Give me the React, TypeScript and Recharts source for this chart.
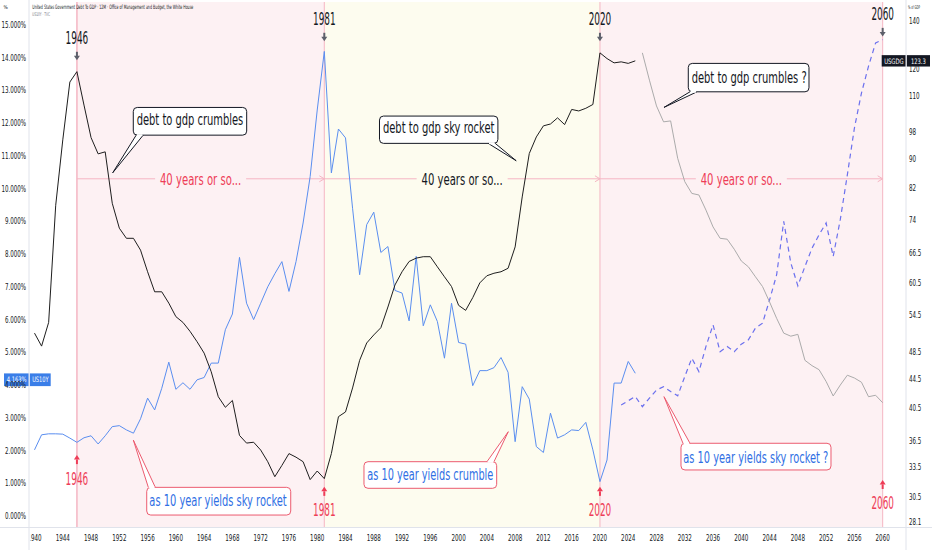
import React from 'react';
import {
  ComposedChart,
  Line,
  XAxis,
  YAxis,
  ReferenceArea,
  ReferenceLine,
  ReferenceDot,
} from 'recharts';

// ---- values ----
const histYears = [
  1940, 1941, 1942, 1943, 1944, 1945, 1946, 1947, 1948, 1949,
  1950, 1951, 1952, 1953, 1954, 1955, 1956, 1957, 1958, 1959,
  1960, 1961, 1962, 1963, 1964, 1965, 1966, 1967, 1968, 1969,
  1970, 1971, 1972, 1973, 1974, 1975, 1976, 1977, 1978, 1979,
  1980, 1981, 1982, 1983, 1984, 1985, 1986, 1987, 1988, 1989,
  1990, 1991, 1992, 1993, 1994, 1995, 1996, 1997, 1998, 1999,
  2000, 2001, 2002, 2003, 2004, 2005, 2006, 2007, 2008, 2009,
  2010, 2011, 2012, 2013, 2014, 2015, 2016, 2017, 2018, 2019,
  2020, 2021, 2022, 2023, 2024, 2025,
];

// US10Y, %
const yield10y = [
  2.02, 2.48, 2.51, 2.51, 2.5, 2.38, 2.25, 2.39, 2.45, 2.2,
  2.45, 2.73, 2.76, 2.63, 2.53, 2.97, 3.6, 3.24, 3.9, 4.7,
  3.87, 4.07, 3.87, 4.16, 4.23, 4.67, 4.67, 5.69, 6.17, 7.9,
  6.5, 6.0, 6.5, 7.0, 7.4, 7.77, 6.86, 7.77, 8.95, 10.37,
  12.4, 14.19, 10.48, 11.82, 11.55, 9.4, 7.37, 8.9, 9.28, 8.05,
  8.23, 6.89, 6.81, 5.96, 7.93, 5.81, 6.45, 5.94, 4.82, 6.5,
  5.3, 5.25, 3.98, 4.44, 4.44, 4.53, 4.84, 4.39, 2.27, 3.95,
  3.57, 2.12, 1.94, 3.14, 2.38, 2.48, 2.63, 2.61, 2.86, 2.02,
  1.05, 1.71, 4.06, 4.06, 4.72, 4.36,
];

// USGDG, % of GDP
const debtToGdp = [
  51.5, 49.4, 53.3, 77.6, 95.7, 115.2, 119.1, 107.0, 96.4, 91.5,
  92.1, 78.1, 72.1, 69.8, 69.8, 67.2, 62.7, 58.8, 58.8, 56.7,
  54.3, 53.3, 51.8, 50.1, 48.3, 45.5, 42.0, 40.6, 41.5, 37.1,
  36.2, 36.3, 35.4, 34.1, 32.5, 33.7, 35.0, 34.6, 34.1, 32.2,
  33.1, 32.3, 35.0, 39.4, 40.0, 43.2, 47.2, 49.9, 51.2, 52.4,
  56.0, 60.1, 62.7, 64.8, 65.5, 65.8, 65.8, 63.7, 61.7, 59.8,
  56.3, 55.4, 57.7, 60.5, 61.9, 62.4, 62.7, 63.4, 67.9, 79.7,
  91.6, 96.6, 100.1, 100.7, 102.7, 100.5, 105.5, 105.0, 105.9, 107.2,
  126.5, 124.2, 122.5, 122.9, 122.3, 123.3,
];

// projected (mirrored) debt, grey line
const projDebtYears = [
  2026, 2027, 2028, 2029, 2030, 2031, 2032, 2033, 2034, 2035,
  2036, 2037, 2038, 2039, 2040, 2041, 2042, 2043, 2044, 2045,
  2046, 2047, 2048, 2049, 2050, 2051, 2052, 2053, 2054, 2055,
  2056, 2057, 2058, 2059, 2060,
];
const projDebt = [
  126.5, 115.9, 106.7, 101.4, 101.7, 90.2, 83.7, 80.6, 80.2, 76.4,
  72.4, 69.8, 69.6, 67.4, 64.9, 63.7, 61.7, 59.8, 56.9, 54.0,
  51.5, 51.0, 51.3, 47.2, 46.4, 45.8, 44.1, 42.1, 43.6, 45.0,
  44.6, 44.0, 42.0, 42.2, 41.2,
];

// projected yields, dashed line
const projYieldYears = [
  2023, 2024, 2025, 2026, 2027, 2028, 2029, 2030,
  2031, 2032, 2033, 2034, 2035, 2036, 2037, 2038, 2039, 2040,
  2041, 2042, 2043, 2044, 2045, 2046, 2047, 2048, 2049, 2050,
  2051, 2052, 2053, 2054, 2055, 2056, 2057, 2058, 2059, 2060,
];
const projYield = [
  3.39, 3.52, 3.65, 3.34, 3.6, 3.85, 3.95, 3.8,
  3.67, 4.26, 4.82, 4.41, 5.18, 5.84, 5.02, 5.18, 5.02, 5.25,
  5.38, 5.74, 5.89, 6.6, 7.37, 9.0, 7.73, 7.03, 7.62, 8.18,
  8.59, 8.95, 7.93, 9.05, 10.42, 11.85, 12.92, 13.74, 14.45, 14.55,
];

const yearTicks = [
  1940, 1944, 1948, 1952, 1956, 1960, 1964, 1968, 1972, 1976, 1980,
  1984, 1988, 1992, 1996, 2000, 2004, 2008, 2012, 2016, 2020, 2024,
  2028, 2032, 2036, 2040, 2044, 2048, 2052, 2056, 2060,
];
const yieldTicks = [0, 1, 2, 3, 4, 5, 6, 7, 8, 9, 10, 11, 12, 13, 14, 15];
const debtTicks = [28.1, 30.5, 33.5, 36.5, 40.5, 44.5, 48.5, 54.5, 60.5, 66.5, 74, 82, 90, 98, 110, 120, 140];

const xDomain = [1939.22, 2063.3];
const yieldDomain = [-0.336, 15.7];
const debtDomain = [27.66, 148.9];

const lastYield = 4.163;
const lastDebt = 123.3;

// eras: shaded bands and the "40 years or so..." spans
const eras = [
  { from: 1946, to: 1981, fill: '#fdf1f3', label: '#ee3d57' },
  { from: 1981, to: 2020, fill: '#fdfcef', label: '#131722' },
  { from: 2020, to: 2060, fill: '#fdf1f3', label: '#ee3d57' },
];
const spanLevel = 10.3;

// year markers (arrow tip position on the yield axis)
const markers = [
  { year: 1946, at: 13.92, dir: 'down' },
  { year: 1981, at: 14.5, dir: 'down' },
  { year: 2020, at: 14.5, dir: 'down' },
  { year: 2060, at: 14.65, dir: 'down' },
  { year: 1946, at: 1.86, dir: 'up' },
  { year: 1981, at: 0.89, dir: 'up' },
  { year: 2020, at: 0.89, dir: 'up' },
  { year: 2060, at: 1.1, dir: 'up' },
];

// callouts: tip in data coords, box / base / text offsets in px from the tip
const callouts = [
  {
    text: 'debt to gdp crumbles', year: 1951.06, value: 86.1, axis: 'debt',
    box: [20.6, -65.4, 113.4, 27.7], base: [23.5, 30.5], baseY: -37.7,
    tx: 77.3, ty: -47.7, tw: 106.6, color: '#131722', border: '#131722',
  },
  {
    text: 'debt to gdp sky rocket', year: 2008.15, value: 89.5, axis: 'debt',
    box: [-136.7, -44.7, 118.4, 27.3], base: [-28, -21], baseY: -17.4,
    tx: -77.5, ty: -27.7, tw: 111.6, color: '#131722', border: '#131722',
  },
  {
    text: 'debt to gdp crumbles ?', year: 2029.06, value: 106.2, axis: 'debt',
    box: [24.3, -44, 120.7, 28.4], base: [26, 33], baseY: -15.6,
    tx: 85.2, ty: -24.3, tw: 115, color: '#131722', border: '#131722',
  },
  {
    text: 'as 10 year yields sky rocket', year: 1953.98, value: 2.32, axis: 'yld',
    box: [13.4, 47.3, 144, 27.7], base: [15, 22], baseY: 47.3,
    tx: 84.7, ty: 66, tw: 137.4, color: '#2f6fe4', border: '#ec5b6f',
  },
  {
    text: 'as 10 year yields crumble', year: 2007.03, value: 2.575, axis: 'yld',
    box: [-144.3, 30, 132.7, 26.6], base: [-21.3, -14.3], baseY: 30,
    tx: -78, ty: 48.3, tw: 126, color: '#2f6fe4', border: '#ec5b6f',
  },
  {
    text: 'as 10 year yields sky rocket ?', year: 2029.06, value: 3.645, axis: 'yld',
    box: [17, 46.6, 150, 26.7], base: [19, 26], baseY: 46.6,
    tx: 91.8, ty: 66.3, tw: 145, color: '#2f6fe4', border: '#ec5b6f',
  },
];

const NARROW = "'Liberation Sans Narrow', 'DejaVu Sans Condensed', 'Roboto Condensed', 'Liberation Sans', sans-serif";
const INK = '#131722';
const RED = '#ee3d57';
const PINK_LINE = '#f5b6c3';

// rough width of a condensed label, so every font squeezes to the same size
const labelWidth = (s, size) => {
  let w = 0;
  for (const ch of s) {
    if (ch >= '0' && ch <= '9') w += 0.445 * size;
    else if (ch === '.') w += 0.2 * size;
    else if (ch === '%') w += 0.65 * size;
    else w += 0.5 * size;
  }
  return w;
};

// one row per year for the chart
const pick = (years, vals, y) => {
  const i = years.indexOf(y);
  return i >= 0 ? vals[i] : null;
};
const allYears = Array.from(new Set([...histYears, ...projDebtYears, ...projYieldYears])).sort((a, b) => a - b);
const rows = allYears.map((year) => ({
  year,
  yld: pick(histYears, yield10y, year),
  debt: pick(histYears, debtToGdp, year),
  projDebt: pick(projDebtYears, projDebt, year),
  projYld: pick(projYieldYears, projYield, year),
}));

const Squeezed = ({ x, y, s, size, anchor = 'middle', fill = INK, w }) => (
  <text x={x} y={y} textAnchor={anchor} fontSize={size} fill={fill} fontFamily={NARROW}
    textLength={w ?? labelWidth(s, size)} lengthAdjust="spacingAndGlyphs">{s}</text>
);

const XTick = ({ x, y, payload }) => <Squeezed x={x} y={y + 14} s={String(payload.value)} size={8} />;

const LeftTick = ({ x, y, payload }) => (
  <Squeezed x={x - 3} y={y + 3} s={`${payload.value.toFixed(3)}%`} size={8} anchor="end" />
);

const RightTick = ({ x, y, payload }) => (
  <Squeezed x={x + 3} y={y + 3} s={String(payload.value)} size={8} anchor="start" />
);

function YearMark({ cx, cy, label, dir }) {
  if (dir === 'down') {
    return (
      <g>
        <rect x={cx - 1} y={cy - 8.5} width={2} height={4.5} fill="#5d606b" />
        <path d={`M${cx - 3},${cy - 4.5} L${cx + 3},${cy - 4.5} L${cx},${cy} Z`} fill="#5d606b" />
        <Squeezed x={cx} y={cy - 16} s={label} size={18.5} w={22.6} />
      </g>
    );
  }
  return (
    <g>
      <path d={`M${cx},${cy} L${cx - 3},${cy + 4.5} L${cx + 3},${cy + 4.5} Z`} fill={RED} />
      <rect x={cx - 1} y={cy + 4.5} width={2} height={4.5} fill={RED} />
      <Squeezed x={cx} y={cy + 29.5} s={label} size={18.5} w={22.6} fill={RED} />
    </g>
  );
}

function Callout({ cx, cy, c }) {
  const [bx, by, bw, bh] = c.box;
  const [b1, b2] = c.base;
  const yb = cy + c.baseY;
  return (
    <g>
      <rect x={cx + bx} y={cy + by} width={bw} height={bh} rx={4} fill="#ffffff" stroke={c.border} strokeWidth={1} />
      <path d={`M${cx + b1},${yb} L${cx},${cy} L${cx + b2},${yb}`} fill="#ffffff" stroke={c.border} strokeWidth={1} />
      <line x1={cx + b1 + 0.8} y1={yb} x2={cx + b2 - 0.8} y2={yb} stroke="#ffffff" strokeWidth={1.8} />
      <Squeezed x={cx + c.tx} y={cy + c.ty} s={c.text} size={15.5} w={c.tw} fill={c.color} />
    </g>
  );
}

function SpanLabel({ cx, cy, color, fill }) {
  return (
    <g>
      <rect x={cx - 45.5} y={cy - 8} width={91} height={16} fill={fill} />
      <Squeezed x={cx} y={cy + 6.5} s="40 years or so..." size={15.4} w={81.3} fill={color} />
    </g>
  );
}

const Chevron = ({ cx, cy }) => (
  <path d={`M${cx - 5},${cy - 3} L${cx},${cy} L${cx - 5},${cy + 3}`} fill="none" stroke={PINK_LINE} strokeWidth={1} />
);

const YieldBadge = ({ cx, cy }) => (
  <g>
    <rect x={cx - 25} y={cy - 6.3} width={25.3} height={12.7} fill="#3a7ee8" />
    <Squeezed x={cx - 12.4} y={cy + 2.7} s={`${lastYield.toFixed(3)}%`} size={7.5} fill="#ffffff" />
    <rect x={cx + 1} y={cy - 6.3} width={20.7} height={12.7} fill="#3a7ee8" />
    <Squeezed x={cx + 11.4} y={cy + 2.7} s="US10Y" size={7.5} w={16.5} fill="#ffffff" />
  </g>
);

const DebtBadge = ({ cx, cy }) => (
  <g>
    <rect x={cx - 24.3} y={cy - 5.7} width={24.3} height={11.4} fill="#131722" />
    <Squeezed x={cx - 12.1} y={cy + 2.7} s="USGDG" size={7.5} w={19.5} fill="#ffffff" />
    <rect x={cx + 0.7} y={cy - 5.7} width={23.3} height={11.4} fill="#131722" />
    <Squeezed x={cx + 12.3} y={cy + 2.7} s={String(lastDebt)} size={7.5} fill="#ffffff" />
  </g>
);

export default function App() {
  return (
    <div style={{ position: 'absolute', left: 0, top: 0, width: 932, height: 550, background: '#ffffff' }}>
      <ComposedChart width={932} height={550} data={rows} margin={{ top: 2, right: 0, bottom: 0, left: 0 }}>
        <XAxis
          dataKey="year"
          type="number"
          domain={xDomain}
          allowDataOverflow
          ticks={yearTicks}
          interval={0}
          height={23}
          tickSize={0}
          tickMargin={0}
          tickLine={false}
          axisLine={false}
          tick={<XTick />}
        />
        <YAxis
          yAxisId="yld"
          type="number"
          domain={yieldDomain}
          allowDataOverflow
          ticks={yieldTicks}
          interval={0}
          width={29}
          tickSize={0}
          tickMargin={0}
          tickLine={false}
          axisLine={false}
          tick={<LeftTick />}
        />
        <YAxis
          yAxisId="debt"
          orientation="right"
          type="number"
          scale="log"
          domain={debtDomain}
          allowDataOverflow
          ticks={debtTicks}
          interval={0}
          width={26}
          tickSize={0}
          tickMargin={0}
          tickLine={false}
          axisLine={false}
          tick={<RightTick />}
        />

        {eras.map((e) => (
          <ReferenceArea key={`band-${e.from}`} yAxisId="yld" x1={e.from} x2={e.to} fill={e.fill} fillOpacity={1} stroke="none" />
        ))}
        {[1946, 1981, 2020, 2060].map((yr) => (
          <ReferenceLine key={`v-${yr}`} yAxisId="yld" x={yr} stroke={PINK_LINE} strokeWidth={yr === 1946 ? 1.5 : 1} />
        ))}
        <ReferenceLine
          yAxisId="yld"
          segment={[{ x: 1946, y: spanLevel }, { x: 2060, y: spanLevel }]}
          stroke={PINK_LINE}
          strokeWidth={1}
        />

        <Line yAxisId="yld" dataKey="yld" type="linear" stroke="#5a8ef0" strokeWidth={1} dot={false} isAnimationActive={false} />
        <Line yAxisId="yld" dataKey="projYld" type="linear" stroke="#6b70ee" strokeWidth={1.2} strokeDasharray="5 4" dot={false} isAnimationActive={false} />
        <Line yAxisId="debt" dataKey="debt" type="linear" stroke="#1e1e1e" strokeWidth={1} dot={false} isAnimationActive={false} />
        <Line yAxisId="debt" dataKey="projDebt" type="linear" stroke="#ababab" strokeWidth={1} dot={false} isAnimationActive={false} />

        {eras.map((e) => (
          <ReferenceDot
            key={`span-${e.from}`}
            yAxisId="yld"
            x={(e.from + e.to) / 2}
            y={spanLevel}
            r={0}
            ifOverflow="visible"
            shape={(p) => <SpanLabel cx={p.cx} cy={p.cy} color={e.label} fill={e.fill} />}
          />
        ))}
        {eras.map((e) => (
          <ReferenceDot key={`chev-${e.to}`} yAxisId="yld" x={e.to} y={spanLevel} r={0} ifOverflow="visible"
            shape={(p) => <Chevron cx={p.cx} cy={p.cy} />} />
        ))}
        {markers.map((m) => (
          <ReferenceDot key={`m-${m.year}-${m.dir}`} yAxisId="yld" x={m.year} y={m.at} r={0} ifOverflow="visible"
            shape={(p) => <YearMark cx={p.cx} cy={p.cy} label={String(m.year)} dir={m.dir} />} />
        ))}
        {callouts.map((c) => (
          <ReferenceDot key={c.text} yAxisId={c.axis} x={c.year} y={c.value} r={0} ifOverflow="visible"
            shape={(p) => <Callout cx={p.cx} cy={p.cy} c={c} />} />
        ))}
        <ReferenceDot yAxisId="yld" x={xDomain[0]} y={lastYield} r={0} ifOverflow="visible"
          shape={(p) => <YieldBadge cx={p.cx} cy={p.cy} />} />
        <ReferenceDot yAxisId="debt" x={xDomain[1]} y={lastDebt} r={0} ifOverflow="visible"
          shape={(p) => <DebtBadge cx={p.cx} cy={p.cy} />} />

        <text x={463} y={52} textAnchor="middle" fontSize={17.5} fontWeight="bold" fontStyle="italic" fill={INK}
          fontFamily={NARROW} textLength={230} lengthAdjust="spacingAndGlyphs">
          Debt to GDP tracks inversely 10 year yields
        </text>
      </ComposedChart>

      <svg width={932} height={550} style={{ position: 'absolute', left: 0, top: 0, pointerEvents: 'none' }}>
        {/* the left price scale hides the start of the first year label */}
        <rect x={0} y={528} width={30.5} height={22} fill="#ffffff" />
        <line x1={29} y1={0} x2={29} y2={550} stroke="#e0e3eb" strokeWidth={1} />
        <line x1={906} y1={0} x2={906} y2={550} stroke="#e0e3eb" strokeWidth={1} />
        <line x1={0} y1={527.5} x2={932} y2={527.5} stroke="#e0e3eb" strokeWidth={1} />
        <text x={3.5} y={9} fontSize={5} fill={INK} fontFamily={NARROW}>%</text>
        <text x={908} y={9} fontSize={5} fill={INK} fontFamily={NARROW} textLength={12} lengthAdjust="spacingAndGlyphs">% of GDP</text>
        <text x={32.3} y={9} fontSize={6} fill={INK} fontFamily={NARROW} textLength={161} lengthAdjust="spacingAndGlyphs">
          United States Government Debt To GDP · 12M · Office of Management and Budget, the White House
        </text>
        <text x={32.3} y={16} fontSize={5} fill="#787b86" fontFamily={NARROW} textLength={17.7} lengthAdjust="spacingAndGlyphs">
          US10Y · TVC
        </text>
      </svg>
    </div>
  );
}
